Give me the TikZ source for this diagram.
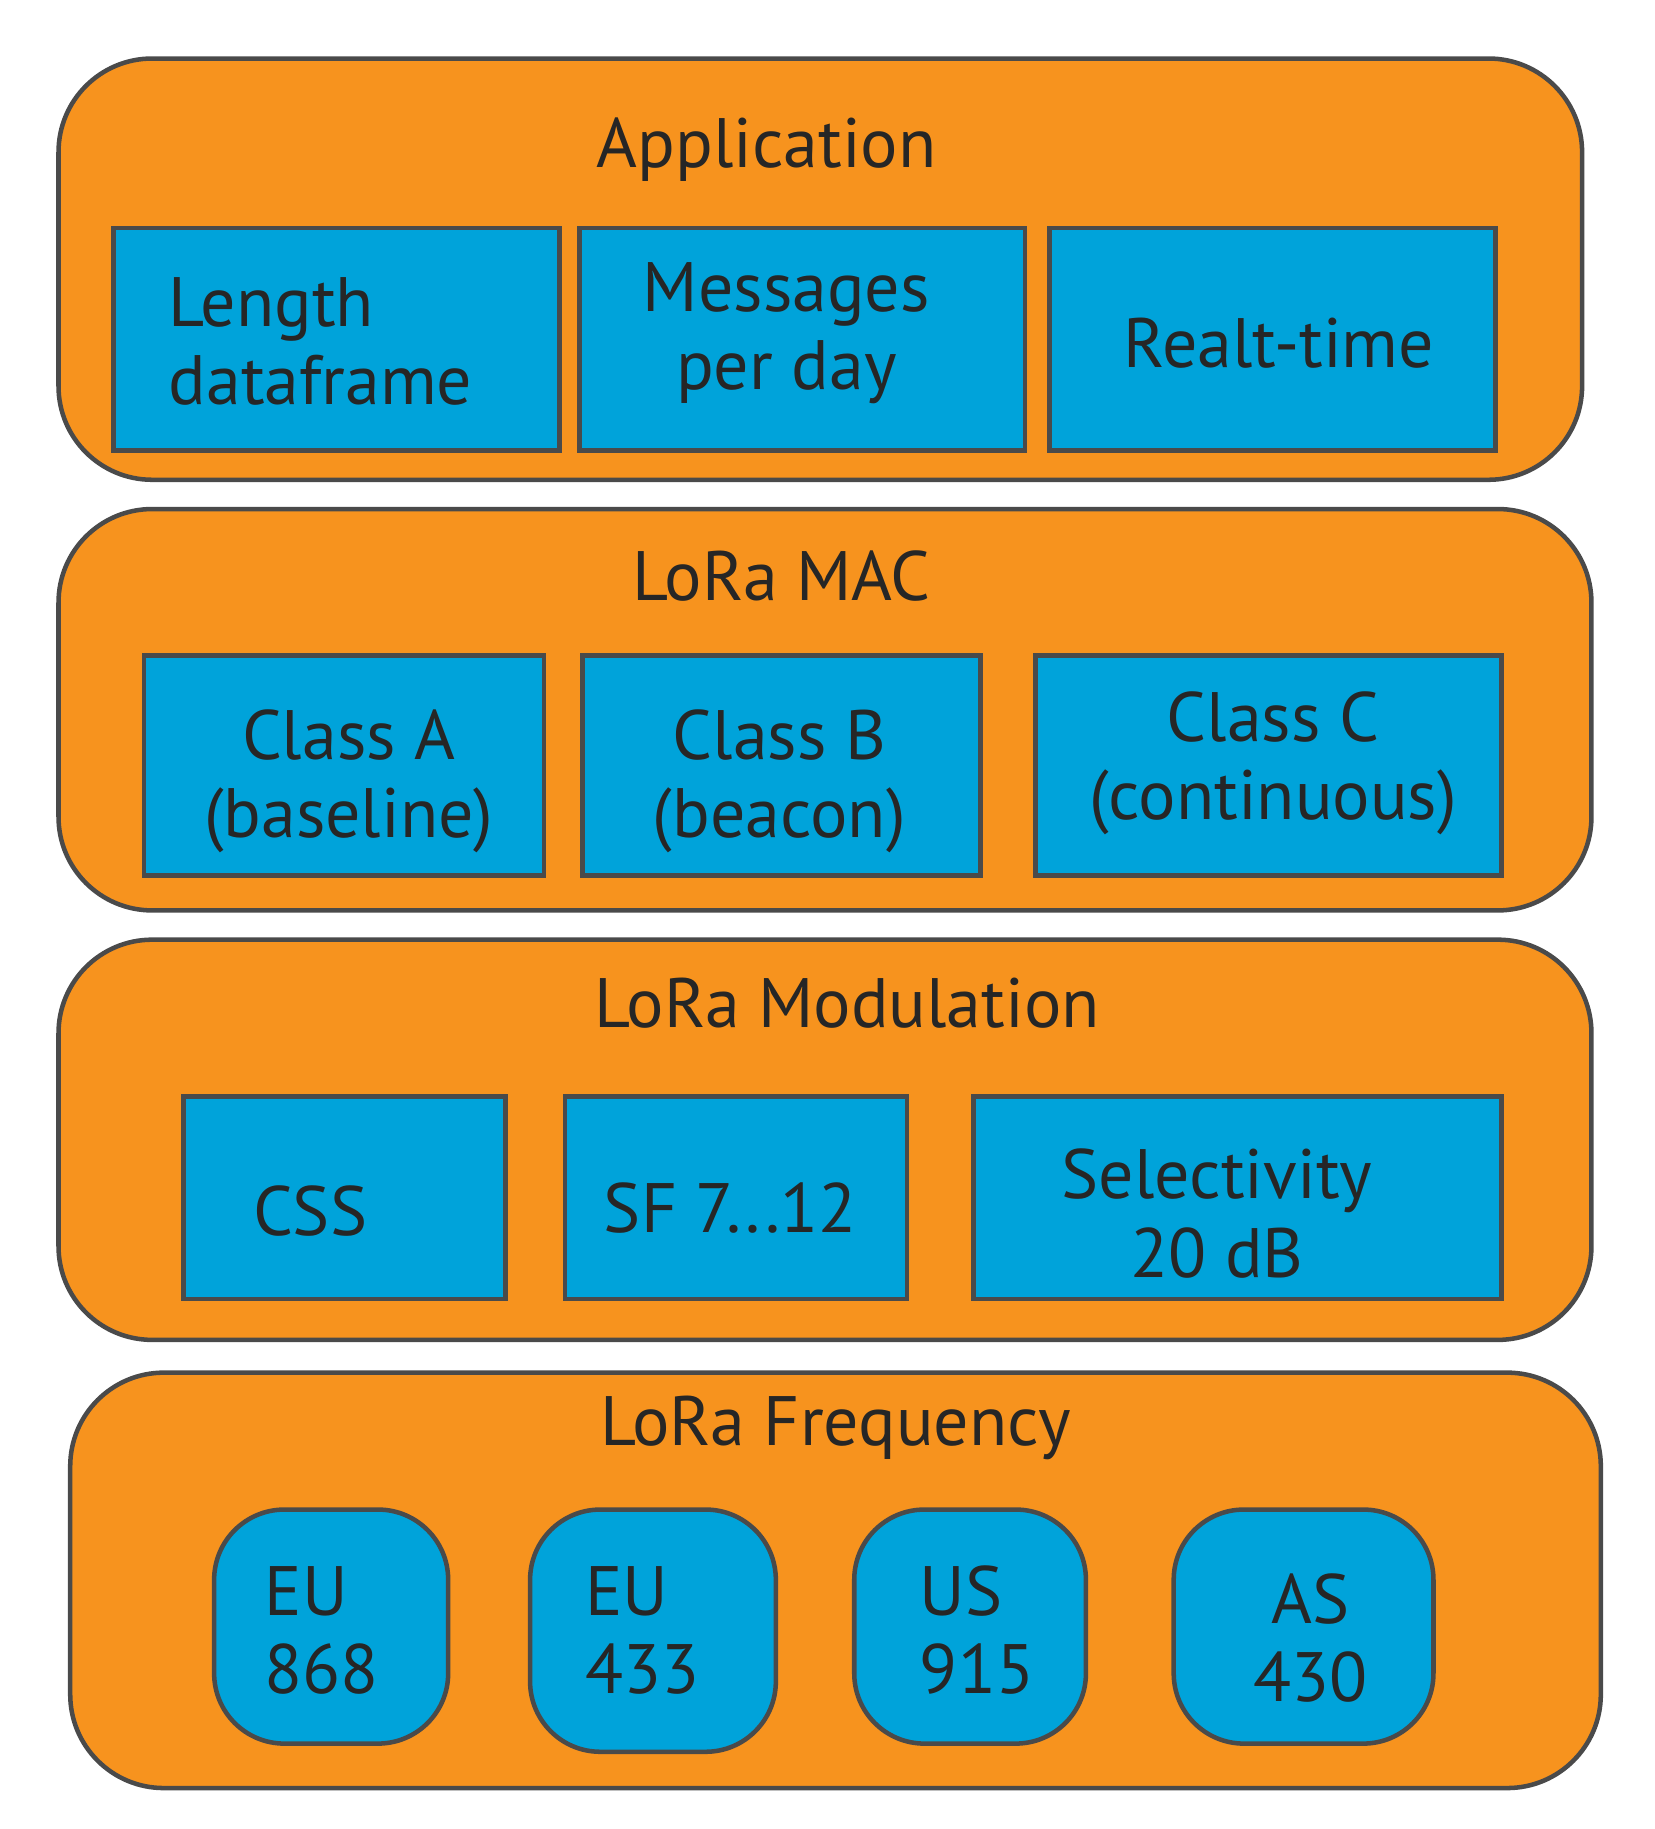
\documentclass[tikz,border=0pt]{standalone}
\usepackage{fontspec}
\setmainfont{PT Sans}
\begin{document}
\begin{tikzpicture}[x=0.02cm,y=-0.02cm,
 layer/.style={fill=orng,draw=edge,line width=2.2pt,rounded corners=1.6cm},
 box/.style={fill=blu,draw=edge,line width=2.2pt},
 rbox/.style={fill=blu,draw=edge,line width=2.2pt,rounded corners=1.2cm},
 txt/.style={font=\fontsize{34}{38}\selectfont,text=black!85,align=center},
 lt/.style={font=\fontsize{34}{38}\selectfont,text=black!85,align=left}]
\definecolor{orng}{HTML}{F7931E}
\definecolor{blu}{HTML}{00A3DA}
\definecolor{edge}{HTML}{4A4A4A}
\useasboundingbox (0,0) rectangle (1414,1563);
% layers
\draw[layer] (50,50) rectangle (1352,410);
\draw[layer] (50,435) rectangle (1360,778);
\draw[layer] (50,803) rectangle (1360,1145);
\draw[layer] (60,1173) rectangle (1368,1528);
\node[txt] (t1) at (655,128) {Application};
\node[txt] (t2) at (668,492) {LoRa MAC};
\node[txt] (t3) at (724,857) {LoRa Modulation};
\node[txt] (t4) at (714,1220) {LoRa Frequency};
% application
\draw[box] (97,195) rectangle (478,385);
\draw[box] (495,195) rectangle (876,385);
\draw[box] (897,195) rectangle (1278,385);
\node[lt,anchor=west] (a1) at (138,292) {Length\\dataframe};
\node[txt] (a2) at (672,285) {Messages\\per day};
\node[txt] (a3) at (1093,293) {Realt-time};
% mac
\draw[box] (123,560) rectangle (465,748);
\draw[box] (498,560) rectangle (838,748);
\draw[box] (885,560) rectangle (1283,748);
\node[txt] (m1) at (298,668) {Class A\\(baseline)};
\node[txt] (m2) at (666,668) {Class B\\(beacon)};
\node[txt] (m3) at (1088,652) {Class C\\(continuous)};
% modulation
\draw[box] (157,937) rectangle (432,1110);
\draw[box] (483,937) rectangle (775,1110);
\draw[box] (832,937) rectangle (1283,1110);
\node[txt] (d1) at (265,1035) {CSS};
\node[txt] (d2) at (624,1032) {SF 7...12};
\node[txt] (d3) at (1040,1037) {Selectivity\\20 dB};
% frequency
\draw[rbox] (183,1290) rectangle (383,1490);
\draw[rbox] (453,1290) rectangle (663,1497);
\draw[rbox] (730,1290) rectangle (928,1490);
\draw[rbox] (1003,1290) rectangle (1225,1490);
\node[lt] (f1) at (275,1393) {EU\\868};
\node[lt] (f2) at (549,1393) {EU\\433};
\node[lt] (f3) at (835,1393) {US\\\hspace*{0pt}\phantom{}915};
\node[txt] (f4) at (1120,1400) {AS\\430};
\end{tikzpicture}
\end{document}
